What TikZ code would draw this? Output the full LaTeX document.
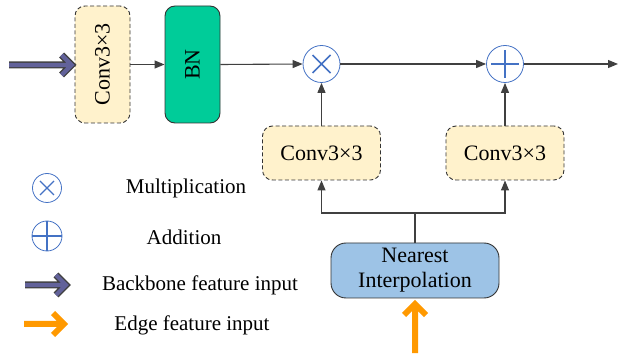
\documentclass[tikz,border=0pt]{standalone}
\usepackage{fontspec}
\setmainfont{Liberation Serif}
\usetikzlibrary{arrows.meta,calc}
\definecolor{cream}{HTML}{FFF2CC}
\definecolor{bngreen}{HTML}{00CC99}
\definecolor{nearblue}{HTML}{9DC3E6}
\definecolor{opblue}{HTML}{4472C4}
\definecolor{edgeorange}{HTML}{FF9900}
\definecolor{bbpurple}{HTML}{62629A}
\definecolor{linegray}{HTML}{404040}
\begin{document}
\begin{tikzpicture}[x=1pt,y=-1pt,
  every node/.style={font=\fontsize{22}{25}\selectfont},
  convbox/.style={draw=black!80, dashed, dash pattern=on 4pt off 2.5pt, line width=0.9pt, fill=cream, rounded corners=10pt, inner sep=0pt},
  opcirc/.style={draw=opblue, circle, minimum size=37pt, inner sep=0pt, line width=0.8pt},
  smallcirc/.style={draw=opblue, circle, minimum size=29pt, inner sep=0pt, line width=0.8pt},
  conn/.style={draw=linegray, line width=1.1pt},
  arr/.style={conn, -{Triangle[length=10pt,width=8pt]}, shorten >=0pt},
  lbl/.style={anchor=center, font=\fontsize{21}{25}\selectfont},
  bbout/.style={draw=black!75, line width=7pt, line join=miter, line cap=butt},
  bbin/.style={draw=bbpurple, line width=4.2pt, line join=miter, line cap=butt},
  edgearr/.style={draw=edgeorange, line width=6pt, line join=miter, line cap=butt}
]
\useasboundingbox (0,0) rectangle (619,358);

% top row
\node[convbox, minimum width=55pt, minimum height=117pt] (c0) at (102.5,64.5) {};
\node[rotate=90] at (c0.center) {Conv3×3};
\node[draw=black!80, line width=0.9pt, fill=bngreen, rounded corners=10pt, minimum width=55pt, minimum height=117pt, inner sep=0pt] (bn) at (192.5,64.5) {};
\node[rotate=90] at (bn.center) {BN};

\node[opcirc] (mul) at (321.5,64) {};
\draw[opblue, line width=1.6pt] ($(mul.center)+(-9,-9)$) -- ++(18,18) ($(mul.center)+(-9,9)$) -- ++(18,-18);
\node[opcirc] (add) at (505,64) {};
\draw[opblue, line width=1.6pt] ($(add.center)+(-14,0)$) -- ++(28,0) ($(add.center)+(0,-14)$) -- ++(0,28);

\coordinate (out) at (618,64);
\coordinate (bbstart) at (9,65);

% backbone input arrow
\draw[bbout] (bbstart) -- ($(c0.west)+(-4,0.5)$) ($(c0.west)+(-13,-9.5)$) -- ($(c0.west)+(-3,0.5)$) -- ($(c0.west)+(-13,10.5)$);
\draw[bbin] (bbstart) -- ($(c0.west)+(-4,0.5)$) ($(c0.west)+(-13,-9.5)$) -- ($(c0.west)+(-3,0.5)$) -- ($(c0.west)+(-13,10.5)$);

\draw[arr] (c0.east) -- (bn.west);
\draw[arr] (bn.east) -- (mul.west);
\draw[arr] (mul.east) -- (add.west);
\draw[arr] (add.east) -- (out);

% lower convs
\node[convbox, minimum width=118pt, minimum height=54pt] (c1) at (321.5,153) {Conv3×3};
\node[convbox, minimum width=118pt, minimum height=54pt] (c2) at (505,153) {Conv3×3};
\draw[arr] (c1.north) -- (mul.south);
\draw[arr] (c2.north) -- (add.south);

% nearest interpolation
\node[draw=black!80, line width=0.9pt, fill=nearblue, rounded corners=15pt, minimum width=168pt, minimum height=55pt, inner sep=0pt, align=center, font=\fontsize{22}{25}\selectfont] (ni) at (415,270.5) {Nearest\\Interpolation};
\coordinate (bus) at (415,213);
\draw[conn] (ni.north) -- (bus);
\draw[arr] (bus) -| (c1.south);
\draw[arr] (bus) -| (c2.south);

% edge input arrow
\coordinate (edgestart) at (415,353);
\coordinate (edgetip) at (415,304);
\draw[edgearr] (edgestart) -- (edgetip) ($(edgetip)+(-11,11)$) -- (edgetip) -- ($(edgetip)+(11,11)$);

% legend
\node[smallcirc] (lm) at (47,188) {};
\draw[opblue, line width=1.3pt] ($(lm.center)+(-7,-7)$) -- ++(14,14) ($(lm.center)+(-7,7)$) -- ++(14,-14);
\node[lbl] (tm) at (186,188) {Multiplication};
\node[smallcirc, minimum size=30pt] (la) at (47,236) {};
\draw[opblue, line width=1.3pt] ($(la.center)+(-15,0)$) -- ++(30,0) ($(la.center)+(0,-15)$) -- ++(0,30);
\node[lbl] (ta) at (184,237) {Addition};

\coordinate (lb1) at (25,285);
\coordinate (lb2) at (65,285);
\draw[bbout] (lb1) -- (lb2) ($(lb2)+(-9,-10)$) -- ($(lb2)+(1,0)$) -- ($(lb2)+(-9,10)$);
\draw[bbin] (lb1) -- (lb2) ($(lb2)+(-9,-10)$) -- ($(lb2)+(1,0)$) -- ($(lb2)+(-9,10)$);
\node[lbl] (tb) at (200,285) {Backbone feature input};

\coordinate (le1) at (24,324);
\coordinate (le2) at (64,324);
\draw[edgearr] (le1) -- (le2) ($(le2)+(-11,-11)$) -- (le2) -- ($(le2)+(-11,11)$);
\node[lbl] (te) at (192,325) {Edge feature input};
\end{tikzpicture}
\end{document}
